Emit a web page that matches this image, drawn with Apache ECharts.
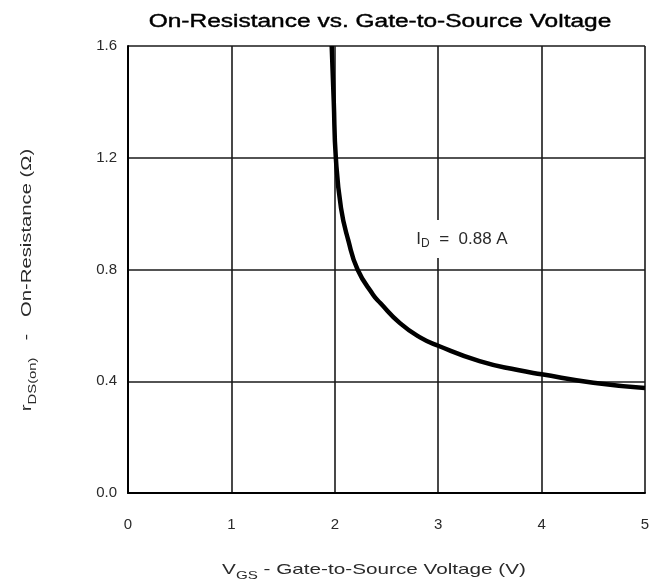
<!DOCTYPE html>
<html>
<head>
<meta charset="utf-8">
<script src="https://cdn.jsdelivr.net/npm/echarts@6/dist/echarts.min.js"></script>
<style>
  html, body { margin: 0; padding: 0; background: #fff; overflow: hidden; }
  #chart { width: 662px; height: 585px; }
</style>
</head>
<body>
<div id="chart"></div>
<script>
// Gate-to-source voltage (V) and on-resistance (Ω) along the I_D = 0.88 A curve
const vgs = [1.97, 1.99, 2.01, 2.06, 2.13, 2.22, 2.37, 2.44, 2.63, 2.82, 3.0, 3.4, 3.77, 4.0, 4.5, 5.0];
const rdsOn = [1.6, 1.4, 1.2, 1.02, 0.905, 0.8, 0.71, 0.68, 0.608, 0.558, 0.527, 0.472, 0.44, 0.425, 0.395, 0.376];

const xTicks = [0, 1, 2, 3, 4, 5];
const yTicks = [0.0, 0.4, 0.8, 1.2, 1.6];

const curveLabel = { text: '0.88 A', at: [3.23, 0.909] };

const FONT = '"Liberation Sans", Arial, sans-serif';
const TXT = '#2a2a2a';
const chart = echarts.init(document.getElementById('chart'), null, {
  renderer: 'canvas', width: 662, height: 585
});

const gridLine = { show: true, lineStyle: { color: '#1a1a1a', width: 1.6 } };
const axisLine = { show: true, lineStyle: { color: '#000', width: 2 } };

// Wide-set lettering for the title and axis names
const stretch = 1.38;

chart.setOption({
  animation: false,
  backgroundColor: '#fff',
  grid: { left: 128, right: 17, top: 46, bottom: 92 },
  xAxis: {
    type: 'value',
    min: xTicks[0], max: xTicks[xTicks.length - 1], interval: 1,
    axisLine: axisLine,
    axisTick: { show: false },
    splitLine: gridLine,
    axisLabel: { margin: 24, fontFamily: FONT, fontSize: 15, color: TXT }
  },
  yAxis: {
    type: 'value',
    min: yTicks[0], max: yTicks[yTicks.length - 1], interval: 0.4,
    axisLine: axisLine,
    axisTick: { show: false },
    splitLine: gridLine,
    axisLabel: {
      margin: 11, fontFamily: FONT, fontSize: 15, color: TXT,
      formatter: v => v.toFixed(1)
    }
  },
  graphic: [
    {
      type: 'text', x: 380, y: 22, scaleX: 1.36,
      style: {
        text: 'On-Resistance vs. Gate-to-Source Voltage',
        font: '18px ' + FONT, fill: '#000',
        stroke: '#000', lineWidth: 0.4,
        align: 'center', verticalAlign: 'middle'
      }
    },
    {
      type: 'text', x: 374, y: 570, scaleX: stretch,
      style: {
        text: '{v|V}{s|GS}{v| - Gate-to-Source Voltage (V)}',
        align: 'center', verticalAlign: 'middle',
        rich: {
          v: { fontFamily: FONT, fontSize: 15, fill: TXT, lineHeight: 22, verticalAlign: 'middle' },
          s: { fontFamily: FONT, fontSize: 11, fill: TXT, lineHeight: 11, verticalAlign: 'bottom' }
        }
      }
    },
    {
      type: 'text', x: 27, y: 280, rotation: Math.PI / 2, scaleX: 1.35,
      style: {
        text: '{v|r}{s|DS(on)}{v|   -   On-Resistance (Ω)}',
        align: 'center', verticalAlign: 'middle',
        rich: {
          v: { fontFamily: FONT, fontSize: 15, fill: TXT, lineHeight: 22, verticalAlign: 'middle' },
          s: { fontFamily: FONT, fontSize: 11, fill: TXT, lineHeight: 11, verticalAlign: 'bottom' }
        }
      }
    }
  ],
  series: [{
    type: 'line',
    data: vgs.map((v, i) => [v, rdsOn[i]]),
    smooth: 0.5,
    showSymbol: false,
    lineStyle: { color: '#000', width: 4.5 },
    markPoint: {
      symbol: 'rect', symbolSize: 0,
      data: [{ coord: curveLabel.at }],
      label: {
        show: true, position: 'inside',
        backgroundColor: '#fff', padding: [8, 4, 8, 4],
        formatter: '{v|I}{s|D}{v|  =  ' + curveLabel.text + '}',
        rich: {
          v: { fontFamily: FONT, fontSize: 17, color: TXT, lineHeight: 22, verticalAlign: 'middle' },
          s: { fontFamily: FONT, fontSize: 12, color: TXT, lineHeight: 11, verticalAlign: 'bottom' }
        }
      }
    }
  }]
});
</script>
</body>
</html>
